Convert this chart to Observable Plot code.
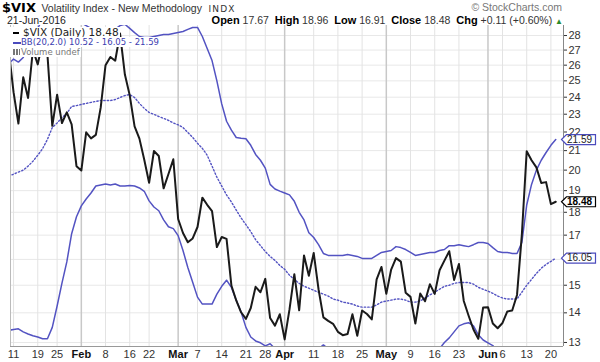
<!DOCTYPE html>
<html><head><meta charset="utf-8">
<script src="https://cdn.jsdelivr.net/npm/d3@7"></script>
<script src="https://cdn.jsdelivr.net/npm/@observablehq/plot@0.6"></script>
<style>
body{margin:0;background:#fff;}
#wrap{position:relative;width:600px;height:362px;overflow:hidden;font-family:"Liberation Sans",Arial,sans-serif;}
.abs{position:absolute;white-space:nowrap;}
.lg{position:absolute;white-space:nowrap;background:#fff;font-family:"DejaVu Sans",Verdana,sans-serif;left:10px;padding-right:1px;}
.b{font-weight:bold;color:#000;font-size:11px;}
</style></head><body><div id="wrap"></div>
<script>
// trading days shown (2016)
const janDays=[8,11,12,13,14,15,19,20,21,22,25,26,27,28,29];
const febDays=[1,2,3,4,5,8,9,10,11,12,16,17,18,19,22,23,24,25,26,29];
const marDays=[1,2,3,4,7,8,9,10,11,14,15,16,17,18,21,22,23,24,28,29,30,31];
const aprDays=[1,4,5,6,7,8,11,12,13,14,15,18,19,20,21,22,25,26,27,28,29];
const mayDays=[2,3,4,5,6,9,10,11,12,13,16,17,18,19,20,23,24,25,26,27,31];
const junDays=[1,2,3,6,7,8,9,10,13,14,15,16,17,20,21];

const closeValues=[27.01,24.30,22.47,25.22,23.95,27.02,26.05,27.59,26.69,22.34,24.15,22.50,23.11,22.42,20.20,
19.98,21.98,21.65,21.84,23.38,26.00,26.54,26.29,28.14,25.40,24.11,22.31,21.64,20.53,19.38,20.98,20.72,19.11,19.81,20.55,
17.70,17.09,16.70,16.86,17.35,18.67,18.34,18.05,16.50,16.92,16.84,14.99,14.44,14.02,13.79,14.17,14.94,14.74,15.24,13.82,13.56,13.95,
13.10,14.12,15.42,14.09,16.16,15.36,16.26,14.85,13.84,13.72,13.62,13.35,13.24,13.28,13.95,13.22,14.08,13.96,13.77,15.22,15.70,
14.68,15.60,16.05,15.91,14.72,14.57,13.63,14.69,14.41,15.04,14.68,15.57,15.95,16.33,15.20,15.82,14.42,13.90,13.43,13.12,14.19,
14.20,13.63,13.47,13.65,14.05,14.08,14.64,17.03,20.97,20.50,20.14,19.37,19.41,18.37,18.48];

const bbUpper=[26.1,26.4,26.2,26.5,27.3,27.9,28.5,29.2,30.1,31.0,30.76,30.52,30.2,29.84,29.2,
28.9,28.7,28.5,28.3,28.35,28.3,28.35,28.45,28.7,28.8,28.5,28.2,27.93,27.86,27.86,27.93,28.0,28.07,28.07,28.14,
28.21,28.28,28.43,28.57,28.57,27.93,27.1,26.3,25.0,23.6,22.6,22.1,21.7,21.66,21.63,21.28,20.8,20.5,20.1,19.3,19.08,18.98,
18.89,18.8,18.5,18.0,17.66,17.1,16.9,16.6,16.24,16.16,16.16,16.16,16.16,16.2,16.16,16.12,16.04,16.04,16.04,16.16,16.28,
16.32,16.36,16.52,16.48,16.4,16.28,16.16,16.2,16.24,16.28,16.28,16.36,16.4,16.56,16.56,16.6,16.56,16.52,16.6,16.69,16.69,
16.65,16.48,16.32,16.28,16.28,16.24,16.24,16.69,18.33,19.3,20.0,20.5,20.9,21.28,21.59];

const bbMiddle=[19.7,19.8,19.9,20.0,20.2,20.45,20.76,21.1,21.6,22.25,22.5,22.8,23.05,23.45,23.5,
23.57,23.63,23.69,23.75,23.8,23.8,23.8,23.86,23.98,24.1,24.16,23.98,23.63,23.34,23.1,22.99,22.87,22.76,22.65,22.5,
22.4,22.25,21.98,21.71,21.39,21.12,20.76,20.2,19.65,19.22,18.8,18.47,18.1,17.75,17.45,17.15,16.81,16.56,16.32,16.12,15.96,15.76,
15.61,15.38,15.22,15.07,14.96,14.89,14.81,14.74,14.67,14.6,14.49,14.45,14.38,14.35,14.31,14.24,14.2,14.2,14.2,14.28,14.38,
14.42,14.45,14.49,14.49,14.45,14.38,14.38,14.42,14.53,14.64,14.74,14.85,14.96,15.0,15.07,15.1,15.1,15.1,15.04,14.92,14.85,
14.78,14.7,14.6,14.53,14.49,14.49,14.49,14.74,15.0,15.22,15.45,15.65,15.8,15.92,16.05];

const bbLower=[13.4,13.43,13.45,13.35,13.28,13.22,13.18,13.12,13.12,13.5,14.24,15.08,15.9,17.06,17.8,
18.29,18.61,18.89,19.22,19.27,19.32,19.27,19.32,19.22,19.22,19.25,19.22,19.13,18.97,18.52,18.24,18.07,17.66,17.36,17.28,
16.98,16.36,15.68,15.11,14.56,14.31,14.31,14.31,14.67,14.96,15.19,14.92,14.45,14.03,13.5,13.18,13.05,12.99,12.89,12.96,12.8,12.6,
12.4,12.3,12.3,12.4,12.5,12.6,12.7,12.8,12.92,12.8,12.6,12.5,12.4,12.3,12.3,12.3,12.35,12.4,12.45,12.5,12.5,
12.5,12.6,12.6,12.6,12.5,12.5,12.4,12.4,12.5,12.6,12.7,12.8,13.0,13.15,13.35,13.55,13.62,13.66,13.55,13.25,13.08,
12.99,12.9,12.7,12.7,12.7,12.7,12.7,12.8,11.7,11.1,10.9,10.8,10.6,10.55,10.52];

const tickDates=["2016-01-11","2016-01-19","2016-01-25","2016-02-01","2016-02-08","2016-02-16","2016-02-22","2016-03-01","2016-03-07","2016-03-14","2016-03-21","2016-03-28","2016-04-01","2016-04-11","2016-04-18","2016-04-25","2016-05-02","2016-05-09","2016-05-16","2016-05-23","2016-06-01","2016-06-06","2016-06-13","2016-06-20"];
const tickLabels=["11","19","25","Feb","8","16","22","Mar","7","14","21","28","Apr","11","18","25","May","9","16","23","Jun","6","13","20"];
const monthLabels=["Feb","Mar","Apr","May","Jun"];
const yTicks=[13,14,15,16,17,18,19,20,21,22,23,24,25,26,27,28];
const yHiddenLabels=[16]; // covered by the 16.05 price tag in the reference

const lastTags=[{v:21.59,c:"#4b4bbd",w:"normal"},{v:18.48,c:"#000",w:"bold"},{v:16.05,c:"#4b4bbd",w:"normal"}];

// build rows
const pad=n=>String(n).padStart(2,"0");
const months=[[1,janDays],[2,febDays],[3,marDays],[4,aprDays],[5,mayDays],[6,junDays]];
const dates=[];
months.forEach(([m,ds])=>ds.forEach(d=>dates.push(`2016-${pad(m)}-${pad(d)}`)));
const idx=new Map(dates.map((d,i)=>[d,i]));
const rows=dates.map((d,i)=>({i,date:d,close:closeValues[i],upper:bbUpper[i],middle:bbMiddle[i],lower:bbLower[i]}));
const ticks=tickDates.map((d,k)=>({i:idx.get(d),label:tickLabels[k],month:monthLabels.includes(tickLabels[k])}));

const xDomain=[0.37,114.6];
const yDomain=[12.87,28.71];
const band="#5353c2";

const tagSymbol={draw(ctx){ctx.moveTo(-2,0);ctx.lineTo(3,-5);ctx.lineTo(32,-5);ctx.lineTo(32,5);ctx.lineTo(3,5);ctx.closePath();}};

const chart=Plot.plot({
  width:600,height:362,marginTop:25,marginBottom:16,marginLeft:10,marginRight:37,
  style:{fontFamily:"Liberation Sans, Arial, sans-serif",fontSize:"11px",color:"#333",background:"transparent",overflow:"visible"},
  x:{domain:xDomain,axis:null},
  y:{type:"log",domain:yDomain,axis:"right",ticks:yTicks,tickFormat:d=>yHiddenLabels.includes(d)?"":String(d),tickSize:3,tickPadding:2},
  marks:[
    Plot.ruleY(yTicks,{stroke:"#e8e8e8",strokeWidth:1}),
    Plot.ruleX(ticks.filter(t=>!t.month),{x:"i",stroke:"#e3e3e3",strokeWidth:1}),
    Plot.ruleX(ticks.filter(t=>t.month),{x:"i",stroke:"#c8c8c8",strokeWidth:1.5}),
    Plot.line(rows,{x:"i",y:"middle",stroke:band,strokeWidth:1.4,strokeDasharray:"1.4,2.1",clip:true}),
    Plot.line(rows,{x:"i",y:"upper",stroke:band,strokeWidth:1.5,clip:true}),
    Plot.line(rows,{x:"i",y:"lower",stroke:band,strokeWidth:1.5,clip:true}),
    Plot.line(rows,{x:"i",y:"close",stroke:"#1a1a1a",strokeWidth:2,clip:true}),
    Plot.ruleX([xDomain[0]],{stroke:"#bbb"}),
    Plot.ruleX([xDomain[1]],{stroke:"#888"}),
    Plot.ruleY([yDomain[0]],{stroke:"#999"}),
    Plot.text(ticks.filter(t=>!t.month),{x:"i",text:"label",frameAnchor:"bottom",dy:8,lineAnchor:"middle",fill:"#333",fontSize:11}),
    Plot.text(ticks.filter(t=>t.month),{x:"i",text:"label",frameAnchor:"bottom",dy:8,lineAnchor:"middle",fill:"#111",fontSize:11,fontWeight:"bold"}),
    Plot.dot(lastTags,{y:"v",frameAnchor:"right",symbol:tagSymbol,r:5,fill:"white",stroke:"c",strokeWidth:1.2}),
    Plot.text(lastTags.filter(t=>t.w==="normal"),{y:"v",text:d=>d.v.toFixed(2),frameAnchor:"right",dx:16,textAnchor:"middle",fill:"#222",fontSize:10}),
    Plot.text(lastTags.filter(t=>t.w==="bold"),{y:"v",text:d=>d.v.toFixed(2),frameAnchor:"right",dx:16,textAnchor:"middle",fill:"#000",fontSize:10,fontWeight:"bold"})
  ]
});
const wrap=document.getElementById("wrap");
wrap.appendChild(chart);

const html=`
<div class="abs" style="left:2px;top:0px;line-height:14px;height:14px">
 <span style="font-family:'DejaVu Sans',sans-serif;font-weight:bold;font-size:13px;color:#000">$VIX</span>
 <span style="font-size:10.5px;color:#333;margin-left:1px">Volatility Index - New Methodology</span>
 <span style="font-family:'DejaVu Sans',sans-serif;font-size:9px;letter-spacing:1.2px;color:#333;margin-left:2px">INDX</span>
</div>
<div class="abs" style="right:38px;top:1px;font-size:10.5px;color:#777;line-height:12px">© StockCharts.com</div>
<div class="abs" style="left:7px;top:15px;font-size:10.5px;color:#222;line-height:11px">21-Jun-2016</div>
<div class="abs" style="right:37px;top:15px;font-size:10.5px;color:#333;line-height:11px">
 <span class="b">Open</span> 17.67&nbsp; <span class="b">High</span> 18.96&nbsp; <span class="b">Low</span> 16.91&nbsp; <span class="b">Close</span> 18.48&nbsp; <span class="b">Chg</span> +0.11 (+0.60%) <span style="color:#2a8a2a;font-size:8px">▲</span>
</div>
<div class="lg" style="top:27px;height:10px;line-height:10px;font-size:10.5px;color:#222"><span style="display:inline-block;width:6px;height:2px;background:#000;vertical-align:middle;margin:0 4px 0 3px"></span>$VIX (Daily) 18.48</div>
<div class="lg" style="top:37px;height:10px;line-height:10px;font-size:8.5px;color:#3b3bb0"><span style="display:inline-block;width:8px;height:2px;background:#4b4bbd;vertical-align:middle;margin:0 0 0 3px"></span>BB(20,2.0) 10.52 - 16.05 - 21.59</div>
<div class="lg" style="top:47px;height:10px;line-height:10px;font-size:8.5px;color:#777"><span style="display:inline-block;width:7px;height:6px;margin:0 1px 0 3px;background:linear-gradient(90deg,#777 0 2px,transparent 2px 3px,#777 3px 5px,transparent 5px 6px,#777 6px 7px)"></span>Volume undef</div>`;
wrap.insertAdjacentHTML("beforeend",html);
</script></body></html>
